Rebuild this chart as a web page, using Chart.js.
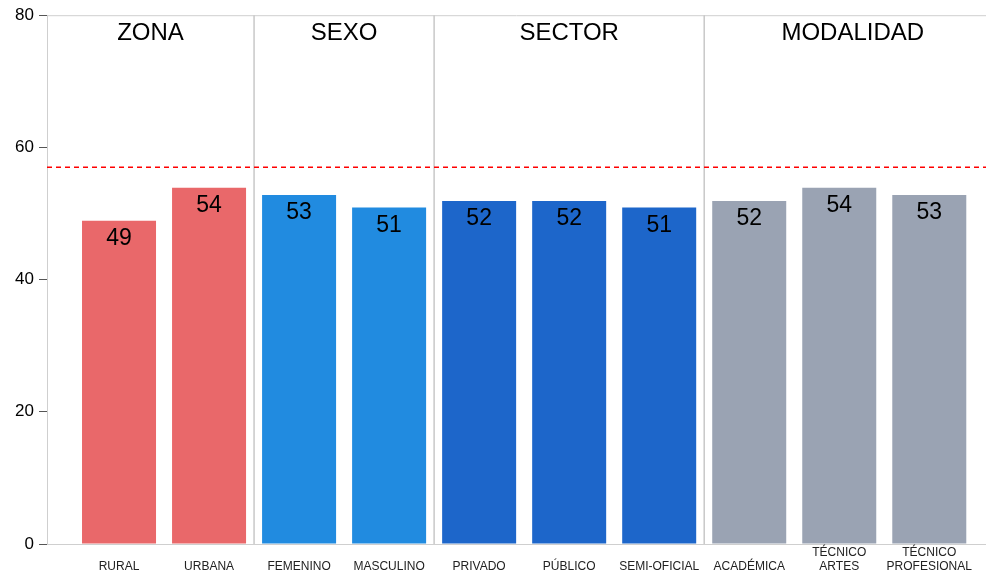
<!DOCTYPE html>
<html>
<head>
<meta charset="utf-8">
<script src="https://cdn.jsdelivr.net/npm/chart.js@4"></script>
<style>
  html, body { margin: 0; padding: 0; background: #fff; }
  #wrap { width: 986px; height: 571px; }
</style>
</head>
<body>
<div id="wrap"><canvas id="chart"></canvas></div>
<script>
// Data
const categories = ["RURAL", "URBANA", "FEMENINO", "MASCULINO", "PRIVADO", "PÚBLICO", "SEMI-OFICIAL", "ACADÉMICA", ["TÉCNICO", "ARTES"], ["TÉCNICO", "PROFESIONAL"]];
const values = [48.9, 53.9, 52.8, 50.9, 51.9, 51.9, 50.9, 51.9, 53.9, 52.8];
const groupNames = ["ZONA", "SEXO", "SECTOR", "MODALIDAD"];
const groupSizes = [2, 2, 3, 3];
const groupColors = ["#E9686A", "#218BE0", "#1D66CA", "#9AA3B3"];
const referenceValue = 57;
const yTicks = [0, 20, 40, 60, 80];

const X_MIN = -0.8, X_MAX = 9.63;

// one colour per bar, from its group
const barColors = [];
groupSizes.forEach((n, g) => { for (let i = 0; i < n; i++) barColors.push(groupColors[g]); });

const FONT = "'Liberation Sans', Arial, sans-serif";

const overlay = {
    id: "overlay",
    beforeDatasetsDraw(chart) {
        const { ctx, chartArea, scales: { x } } = chart;
        ctx.save();
        // top border
        ctx.strokeStyle = "#cfcfcf";
        ctx.lineWidth = 1;
        ctx.beginPath();
        ctx.moveTo(chartArea.left, chartArea.top + 0.5);
        ctx.lineTo(chart.width, chartArea.top + 0.5);
        ctx.stroke();
        // group separators
        ctx.strokeStyle = "#c8c8c8";
        ctx.lineWidth = 1.5;
        let idx = 0;
        groupSizes.slice(0, -1).forEach(n => {
            idx += n;
            const px = x.getPixelForValue(idx - 0.5);
            ctx.beginPath();
            ctx.moveTo(px, chartArea.top);
            ctx.lineTo(px, chartArea.bottom);
            ctx.stroke();
        });
        ctx.restore();
    },
    afterDatasetsDraw(chart) {
        const { ctx, chartArea, scales: { x } } = chart;
        ctx.save();
        // value labels
        ctx.fillStyle = "#000";
        ctx.font = "23px " + FONT;
        ctx.textAlign = "center";
        ctx.textBaseline = "middle";
        chart.getDatasetMeta(0).data.forEach((bar, i) => {
            ctx.fillText(Math.round(values[i]), bar.x, bar.y + 18);
        });
        // group titles
        ctx.font = "24px " + FONT;
        const edges = [x.min];
        let idx = 0;
        groupSizes.forEach(n => { idx += n; edges.push(idx - 0.5); });
        edges[edges.length - 1] = x.max + 0.17;
        groupNames.forEach((name, g) => {
            const cx = (x.getPixelForValue(edges[g]) + x.getPixelForValue(edges[g + 1])) / 2;
            ctx.fillText(name, cx, chartArea.top + 18);
        });
        ctx.restore();
    }
};

new Chart(document.getElementById("chart"), {
    type: "bar",
    data: {
        datasets: [{
            type: "bar",
            data: values.map((v, i) => ({ x: i, y: v })),
            backgroundColor: barColors,
            barPercentage: 0.822,
            categoryPercentage: 1,
            order: 2
        }, {
            type: "line",
            data: [{ x: X_MIN, y: referenceValue }, { x: X_MAX, y: referenceValue }],
            borderColor: "#FF0000",
            borderWidth: 1.5,
            borderDash: [5, 4],
            pointRadius: 0,
            fill: false,
            order: 1
        }]
    },
    options: {
        responsive: true,
        maintainAspectRatio: false,
        animation: false,
        layout: { padding: { top: 14, right: 0, left: 0, bottom: 0 } },
        plugins: { legend: { display: false }, tooltip: { enabled: false } },
        scales: {
            x: {
                type: "linear",
                offset: false,
                min: X_MIN,
                max: X_MAX,
                afterBuildTicks: scale => { scale.ticks = categories.map((_, i) => ({ value: i })); },
                afterFit: scale => { scale.height = 27; },
                grid: { display: false, drawTicks: false },
                border: { display: true, color: "#cfcfcf", width: 1 },
                ticks: {
                    autoSkip: false,
                    maxRotation: 0,
                    padding: 9,
                    crossAlign: "far",
                    color: "#222",
                    font: { family: FONT, size: 12, lineHeight: 1.1 },
                    callback: v => categories[v]
                }
            },
            y: {
                min: 0,
                max: 80,
                afterBuildTicks: scale => { scale.ticks = yTicks.map(v => ({ value: v })); },
                afterFit: scale => { scale.width = 47; },
                grid: { drawOnChartArea: false, drawTicks: true, tickLength: 8, color: "#555" },
                border: { display: true, color: "#cfcfcf", width: 1 },
                ticks: {
                    padding: 5,
                    color: "#000",
                    font: { family: FONT, size: 17 }
                }
            }
        }
    },
    plugins: [overlay]
});
</script>
</body>
</html>
